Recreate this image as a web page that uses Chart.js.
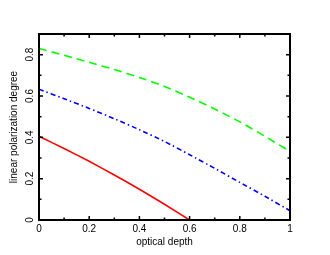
<!DOCTYPE html>
<html>
<head>
<meta charset="utf-8">
<script src="https://cdn.jsdelivr.net/npm/chart.js@4"></script>
<style>
  html, body { margin: 0; padding: 0; background: #fff; }
  #wrap { width: 330px; height: 255px; }
</style>
</head>
<body>
<div id="wrap"><canvas id="pol-chart"></canvas></div>
<script>
// values
const depth = [0, 0.1, 0.2, 0.3, 0.4, 0.5, 0.6, 0.7, 0.8, 0.9, 1.0];
const redDeg = [0.405, 0.346, 0.284, 0.218, 0.149, 0.076, 0.0];
const greenDeg = [0.83, 0.797, 0.763, 0.728, 0.69, 0.646, 0.594, 0.537, 0.475, 0.405, 0.332];
const blueDeg = [0.633, 0.587, 0.540, 0.490, 0.437, 0.380, 0.316, 0.250, 0.182, 0.115, 0.045];
const xMajor = [0, 0.2, 0.4, 0.6, 0.8, 1];
const yMajor = [0, 0.2, 0.4, 0.6, 0.8];
const xMinor = [0.1, 0.3, 0.5, 0.7, 0.9];
const yMinor = [0.1, 0.3, 0.5, 0.7, 0.9];

const fontFam = "'Liberation Sans', Arial, sans-serif";

function toPoints(vals) {
  return vals.map((v, i) => ({ x: depth[i], y: v }));
}

// frame, inward ticks on every side, rotated y tick labels
const framePlugin = {
  id: 'frame',
  afterDraw(chart) {
    const ctx = chart.ctx;
    const a = chart.chartArea;
    const xs = chart.scales.x, ys = chart.scales.y;
    ctx.save();
    ctx.strokeStyle = '#000';
    ctx.lineWidth = 1.5;
    ctx.beginPath();
    const tick = (vals, len) => {
      vals.forEach(v => {
        const px = xs.getPixelForValue(v);
        ctx.moveTo(px, a.bottom); ctx.lineTo(px, a.bottom - len);
        ctx.moveTo(px, a.top); ctx.lineTo(px, a.top + len);
      });
    };
    const ytick = (vals, len) => {
      vals.forEach(v => {
        const py = ys.getPixelForValue(v);
        ctx.moveTo(a.left, py); ctx.lineTo(a.left + len, py);
        ctx.moveTo(a.right, py); ctx.lineTo(a.right - len, py);
      });
    };
    tick(xMajor, 4); tick(xMinor, 2.5);
    ytick(yMajor, 4); ytick(yMinor, 2.5);
    ctx.stroke();
    ctx.lineWidth = 2;
    ctx.strokeRect(a.left, a.top, a.right - a.left, a.bottom - a.top);

    ctx.fillStyle = '#000';
    ctx.font = '10px ' + fontFam;
    ctx.textAlign = 'center';
    ctx.textBaseline = 'middle';
    yMajor.forEach(v => {
      const py = ys.getPixelForValue(v);
      ctx.save();
      ctx.translate(a.left - 9, py);
      ctx.rotate(-Math.PI / 2);
      ctx.fillText(String(v), 0, 0);
      ctx.restore();
    });
    ctx.restore();
  }
};

new Chart(document.getElementById('pol-chart'), {
  type: 'line',
  data: {
    datasets: [
      {
        data: toPoints(redDeg),
        borderColor: '#ff0000',
        borderWidth: 1.6,
        pointRadius: 0,
        tension: 0.2
      },
      {
        data: toPoints(greenDeg),
        borderColor: '#00ff00',
        borderWidth: 1.6,
        borderDash: [8, 5],
        pointRadius: 0,
        tension: 0.2
      },
      {
        data: toPoints(blueDeg),
        borderColor: '#0000ff',
        borderWidth: 1.6,
        borderDash: [5, 3, 1.5, 3],
        pointRadius: 0,
        tension: 0.2
      }
    ]
  },
  options: {
    responsive: true,
    maintainAspectRatio: false,
    animation: false,
    layout: { padding: { left: 0, right: 40, top: 34, bottom: 0 } },
    plugins: { legend: { display: false }, tooltip: { enabled: false } },
    scales: {
      x: {
        type: 'linear',
        min: 0,
        max: 1,
        afterFit: (s) => { s.height = 35; },
        grid: { display: false, drawTicks: false },
        border: { display: false },
        ticks: {
          stepSize: 0.2,
          padding: 3,
          color: '#000',
          font: { family: fontFam, size: 10 },
          callback: (v) => String(Math.round(v * 10) / 10)
        },
        title: {
          display: true,
          text: 'optical depth',
          color: '#000',
          font: { family: fontFam, size: 10 },
          padding: { top: 0, bottom: 7 }
        }
      },
      y: {
        min: 0,
        max: 0.9,
        afterFit: (s) => { s.width = 39; },
        grid: { display: false, drawTicks: false },
        border: { display: false },
        ticks: { display: false, stepSize: 0.2 },
        title: {
          display: true,
          text: 'linear polarization degree',
          color: '#000',
          font: { family: fontFam, size: 10 },
          padding: { top: 8, bottom: 0 }
        }
      }
    }
  },
  plugins: [framePlugin]
});
</script>
</body>
</html>
